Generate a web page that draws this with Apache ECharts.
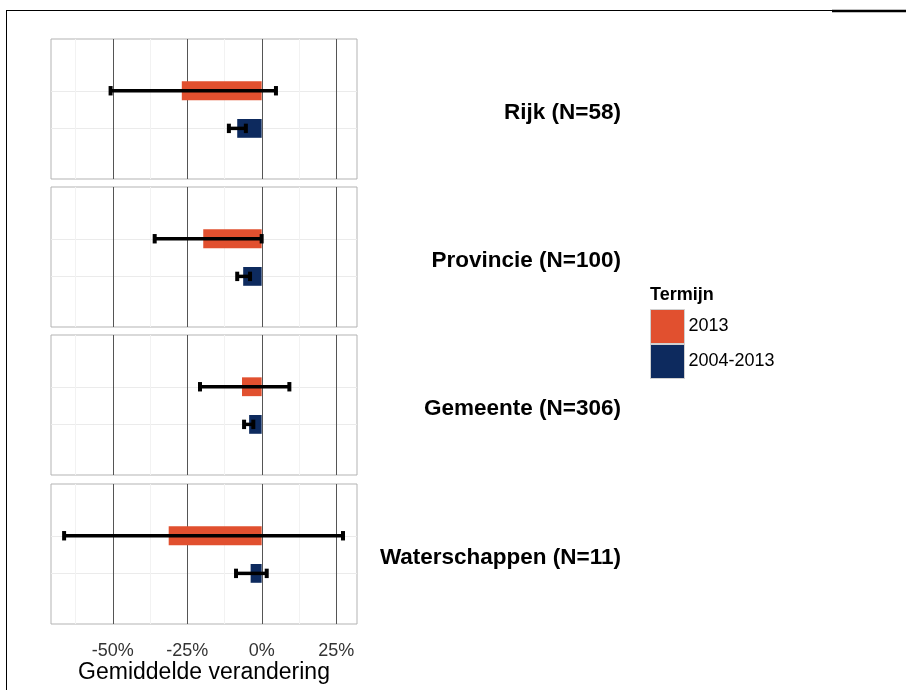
<!DOCTYPE html>
<html>
<head>
<meta charset="utf-8">
<script src="https://cdn.jsdelivr.net/npm/echarts@6/dist/echarts.min.js"></script>
<style>html,body{margin:0;padding:0;background:#fff}#c{width:906px;height:690px}</style>
</head>
<body>
<div id="c"></div>
<script>
// ---- data ----
const panels = ['Rijk (N=58)', 'Provincie (N=100)', 'Gemeente (N=306)', 'Waterschappen (N=11)'];
const terms = ['2013', '2004-2013'];
const mean2013 = [-26.8, -19.6, -6.6, -31.2];
const low2013  = [-50.7, -35.9, -20.7, -66.3];
const high2013 = [4.8, 0.0, 9.3, 27.3];
const meanLong = [-8.2, -6.2, -4.2, -3.7];
const lowLong  = [-11.0, -8.2, -5.9, -8.6];
const highLong = [-5.3, -3.9, -2.8, 1.7];
const majorTicks = [-50, -25, 0, 25];
const minorTicks = [-62.5, -37.5, -12.5, 12.5];

// ---- layout ----
const colors = ['#e1502f', '#0d2a5e'];
const gridTops = [39, 187, 335, 484];
const gridLeft = 51, gridW = 306, gridH = 140;
const xMin = -70.7, xMax = 32;
const yMax = 3.72, yPos = [1.375, 2.375], halfBar = 0.25, cap = 0.125;

const grids = [], xAxes = [], yAxes = [], series = [], graphics = [];
panels.forEach((p, i) => {
  grids.push({left: gridLeft, top: gridTops[i], width: gridW, height: gridH,
    show: true, borderColor: '#b3b3b3', borderWidth: 1, backgroundColor: '#fff'});
  const last = i === panels.length - 1;
  xAxes.push({type: 'value', gridIndex: i, min: xMin, max: xMax,
    axisLine: {show: false}, axisTick: {show: false}, splitLine: {show: false},
    axisLabel: {show: last, customValues: majorTicks, formatter: v => v + '%',
      fontFamily: 'Liberation Sans, Arial', fontSize: 18, color: '#333', margin: 18},
    name: last ? 'Gemiddelde verandering' : '', nameLocation: 'middle', nameGap: 32,
    nameTextStyle: {fontFamily: 'Liberation Sans, Arial', fontSize: 23, color: '#000'}});
  yAxes.push({type: 'value', gridIndex: i, min: 0, max: yMax, inverse: true, show: false});

  // gridlines
  series.push({type: 'custom', xAxisIndex: i, yAxisIndex: i, z: 1, silent: true,
    data: minorTicks.map(v => [v, 0]).concat(majorTicks.map(v => [v, 1])),
    renderItem: (params, api) => {
      const v = api.value(0), major = api.value(1) === 1;
      const a = api.coord([v, 0]), b = api.coord([v, yMax]);
      const items = [{type: 'line', shape: {x1: Math.round(a[0]) + 0.5, y1: a[1], x2: Math.round(a[0]) + 0.5, y2: b[1]},
        style: {stroke: major ? '#555' : '#f2f2f2', lineWidth: 1}}];
      if (params.dataIndex === 0) {
        yPos.forEach(y => {
          const c = api.coord([xMin, y]), d = api.coord([xMax, y]);
          items.unshift({type: 'line', shape: {x1: c[0], y1: Math.round(c[1]) + 0.5, x2: d[0], y2: Math.round(c[1]) + 0.5},
            style: {stroke: '#ebebeb', lineWidth: 1}});
        });
      }
      return {type: 'group', children: items};
    }});

  const barRender = (params, api) => {
    const v = api.value(0), y = api.value(1);
    const a = api.coord([0, y - halfBar]), b = api.coord([v, y + halfBar]);
    return {type: 'rect', shape: {x: Math.min(a[0], b[0]), y: Math.min(a[1], b[1]),
      width: Math.abs(b[0] - a[0]), height: Math.abs(b[1] - a[1])},
      style: {fill: api.visual('color')}};
  };
  series.push({type: 'custom', name: terms[0], xAxisIndex: i, yAxisIndex: i, z: 2,
    itemStyle: {color: colors[0]}, data: [[mean2013[i], yPos[0]]], renderItem: barRender});
  series.push({type: 'custom', name: terms[1], xAxisIndex: i, yAxisIndex: i, z: 2,
    itemStyle: {color: colors[1]}, data: [[meanLong[i], yPos[1]]], renderItem: barRender});

  // error bars
  series.push({type: 'custom', name: 'err', xAxisIndex: i, yAxisIndex: i, z: 3, silent: true,
    data: [[low2013[i], high2013[i], yPos[0]], [lowLong[i], highLong[i], yPos[1]]],
    renderItem: (params, api) => {
      const lo = api.value(0), hi = api.value(1), y = api.value(2);
      const l = api.coord([lo, y]), h = api.coord([hi, y]);
      const t = api.coord([lo, y - cap]), bt = api.coord([lo, y + cap]);
      const st = {stroke: '#000', lineWidth: 3.5};
      const cs = {stroke: '#000', lineWidth: 4};
      return {type: 'group', children: [
        {type: 'line', shape: {x1: l[0], y1: l[1], x2: h[0], y2: h[1]}, style: st},
        {type: 'line', shape: {x1: l[0], y1: t[1], x2: l[0], y2: bt[1]}, style: cs},
        {type: 'line', shape: {x1: h[0], y1: t[1], x2: h[0], y2: bt[1]}, style: cs}
      ]};
    }});

  graphics.push({type: 'text', right: 906 - 621, top: gridTops[i] + gridH / 2 - 8,
    style: {text: p, font: 'bold 22.5px "Liberation Sans", Arial', fill: '#000', textAlign: 'right'}});
});

graphics.push({type: 'text', left: 650, top: 286,
  style: {text: 'Termijn', font: 'bold 18px "Liberation Sans", Arial', fill: '#000'}});
// frame lines
graphics.push({type: 'line', shape: {x1: 6, y1: 10.5, x2: 906, y2: 10.5}, style: {stroke: '#000', lineWidth: 1}});
graphics.push({type: 'line', shape: {x1: 832, y1: 11, x2: 906, y2: 11}, style: {stroke: '#000', lineWidth: 2.5}});
graphics.push({type: 'line', shape: {x1: 6.5, y1: 10, x2: 6.5, y2: 690}, style: {stroke: '#000', lineWidth: 1}});

const chart = echarts.init(document.getElementById('c'), null, {renderer: 'canvas'});
chart.setOption({
  backgroundColor: '#fff',
  animation: false,
  grid: grids, xAxis: xAxes, yAxis: yAxes, series: series,
  legend: {data: terms, orient: 'vertical', left: 650, top: 309, padding: 0, itemWidth: 34, itemHeight: 34,
    itemGap: 0, icon: 'rect', selectedMode: false,
    itemStyle: {borderColor: '#d0d0d0', borderWidth: 1},
    textStyle: {fontFamily: 'Liberation Sans, Arial', fontSize: 18, color: '#000', padding: [0, 0, 0, -1]}},
  graphic: graphics
});
</script>
</body>
</html>
